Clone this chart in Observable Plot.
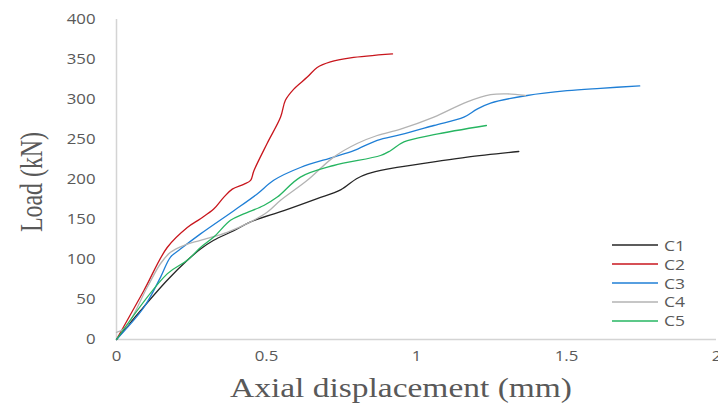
<!DOCTYPE html>
<html>
<head>
<meta charset="utf-8">
<script src="https://cdn.jsdelivr.net/npm/d3@7"></script>
<script src="https://cdn.jsdelivr.net/npm/@observablehq/plot@0.6"></script>
<style>
  html, body { margin: 0; padding: 0; background: #fff; }
  #wrap { position: relative; width: 718px; height: 405px; overflow: hidden; }
  #legend { position: absolute; left: 612px; top: 236px; font: 14px "Open Sans", sans-serif; color: #595959; }
  #legend .row { display: flex; align-items: center; height: 18.8px; }
  #legend .sw { width: 46px; height: 2px; margin-right: 6px; }
  #legend .lb { display: inline-block; transform: scaleX(1.25); transform-origin: left center; }
</style>
</head>
<body>
<div id="wrap"></div>
<script>
// ---- data ----
const series = ["C1", "C2", "C3", "C4", "C5"];
const colors = ["#262626", "#c8161d", "#1f7fd6", "#b3b3b3", "#26b561"];
const xTicks = [0, 0.5, 1, 1.5, 2];
const yTicks = [0, 50, 100, 150, 200, 250, 300, 350, 400];
const xTitle = "Axial displacement (mm)";
const yTitle = "Load (kN)";

const c1 = [[0,0],[0.08,36],[0.169,74],[0.236,99],[0.28,113],[0.324,124],[0.391,136],[0.447,147],[0.558,161],[0.669,176],[0.747,187],[0.8,201],[0.836,207],[0.902,213],[1.013,219.5],[1.058,222],[1.169,228],[1.341,235]];
const c2 = [[0,0],[0.091,61],[0.169,115],[0.236,140],[0.28,151],[0.324,163],[0.358,178],[0.386,188],[0.424,194],[0.447,199],[0.458,211],[0.502,245],[0.547,278],[0.563,299],[0.591,313],[0.636,328],[0.669,340],[0.713,347],[0.78,352],[0.92,357]];
const c3 = [[0,0],[0.091,40],[0.147,78],[0.18,103],[0.213,113],[0.28,132],[0.391,161],[0.469,182],[0.524,199],[0.613,215],[0.724,228],[0.791,236],[0.869,249],[0.947,256],[1.058,267.5],[1.158,278],[1.202,288],[1.247,295.5],[1.369,305],[1.502,311],[1.613,314],[1.744,317]];
const c4 = [[0,9],[0.03,15],[0.102,65],[0.147,95],[0.18,109],[0.224,117.5],[0.28,124],[0.369,134],[0.447,147],[0.502,159],[0.547,174],[0.636,199],[0.724,228],[0.802,245],[0.869,255],[0.947,263],[1.058,278],[1.169,297],[1.247,306],[1.302,307],[1.363,305]];
const c5 = [[0,0],[0.169,82],[0.236,99],[0.28,115],[0.324,128],[0.38,149],[0.424,157],[0.491,167.5],[0.536,178],[0.613,203],[0.724,217.5],[0.88,230],[0.913,236],[0.958,247],[1.058,256],[1.233,267.5]];

const all = [c1, c2, c3, c4, c5];
const rows = all.flatMap((arr, i) => arr.map(([x, y]) => ({series: series[i], x, y})));

const plot = Plot.plot({
  width: 718,
  height: 405,
  marginLeft: 116,
  marginRight: 2,
  marginTop: 19,
  marginBottom: 66,
  style: { fontFamily: "'Open Sans', sans-serif", fontSize: "14px", color: "#595959", background: "#fff", overflow: "hidden" },
  x: { domain: [0, 2], ticks: xTicks, tickSize: 0, tickPadding: 12, tickFormat: d => `${d}`, label: null },
  y: { domain: [0, 400], ticks: yTicks, tickSize: 0, tickPadding: 21, label: null },
  color: { domain: series, range: colors },
  marks: [
    Plot.ruleY([0], { stroke: "#d4d4d4", strokeWidth: 1.5 }),
    Plot.ruleX([0], { stroke: "#d4d4d4", strokeWidth: 1.5 }),
    Plot.line(rows, { x: "x", y: "y", z: "series", stroke: "series", strokeWidth: 1.3, curve: "catmull-rom" })
  ]
});

const wrap = document.getElementById("wrap");
wrap.appendChild(plot);
const svg = d3.select(plot);

// stretch tick labels horizontally like the reference
svg.selectAll('g[aria-label="x-axis tick label"] text, g[aria-label="y-axis tick label"] text, g[aria-label="x-axis"] text, g[aria-label="y-axis"] text')
  .each(function() {
    const len = this.getComputedTextLength();
    if (len > 0) d3.select(this).attr("textLength", len * 1.2).attr("lengthAdjust", "spacingAndGlyphs");
  });

// axis titles
svg.append("text")
  .attr("x", 230).attr("y", 397)
  .attr("text-anchor", "start")
  .attr("font-family", "'Liberation Serif', serif").attr("font-size", 28)
  .attr("fill", "#595959")
  .attr("textLength", 342).attr("lengthAdjust", "spacingAndGlyphs")
  .text(xTitle);
svg.append("text")
  .attr("transform", "translate(42,182) scale(1.28,1) rotate(-90)")
  .attr("text-anchor", "middle")
  .attr("font-family", "'Liberation Serif', serif").attr("font-size", 25)
  .attr("fill", "#595959")
  .attr("textLength", 100).attr("lengthAdjust", "spacingAndGlyphs")
  .text(yTitle);

const legend = document.createElement("div");
legend.id = "legend";
series.forEach((s, i) => {
  const r = document.createElement("div");
  r.className = "row";
  r.innerHTML = `<span class="sw" style="background:${colors[i]};opacity:0.75"></span><span class="lb">${s}</span>`;
  legend.appendChild(r);
});
wrap.appendChild(legend);
</script>
</body>
</html>
